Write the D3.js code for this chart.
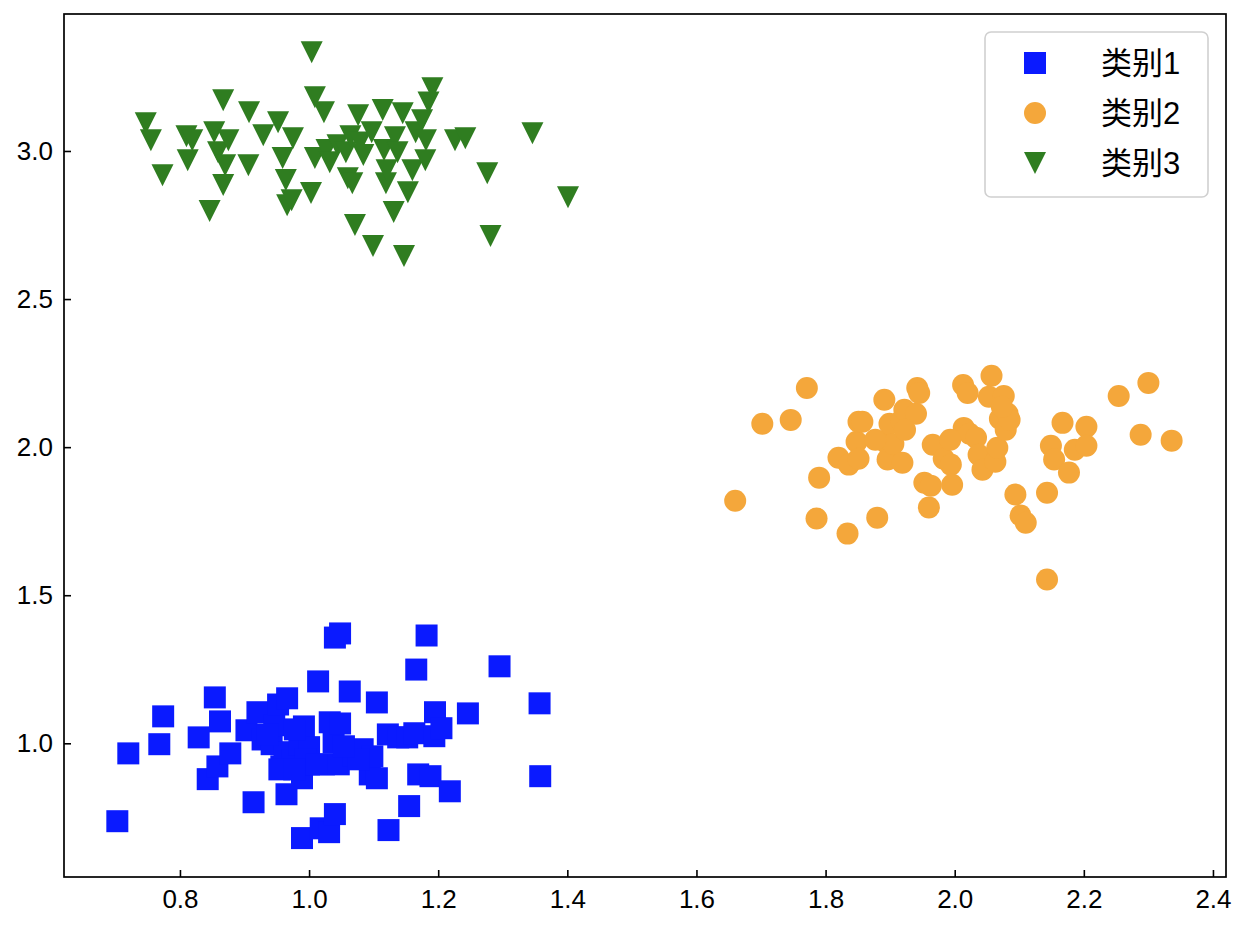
<!DOCTYPE html>
<html>
<head>
<meta charset="utf-8">
<script src="https://cdn.jsdelivr.net/npm/d3@7"></script>
<style>
  body { margin: 0; background: #fff; }
  text { font-family: "Liberation Sans", Arial, "Noto Sans CJK SC", sans-serif; }
</style>
</head>
<body>
<div id="chart"></div>
<script>
// series names for the legend
var names = ["类别1", "类别2", "类别3"];

// 类别1 (blue squares)
var s1x = [0.703,0.720,0.768,0.774,0.829,0.843,0.854,0.858,0.862,0.878,0.903,0.914,0.920,0.928,0.942,0.946,
  0.952,0.957,0.965,0.966,0.962,0.974,0.985,0.989,0.989,0.992,1.000,1.000,1.014,1.018,1.031,1.023,1.032,1.040,
  1.048,1.040,1.038,1.046,1.048,1.063,1.069,1.083,1.094,1.098,1.105,1.105,1.123,1.122,1.138,1.152,1.155,1.163,
  1.166,1.169,1.182,1.188,1.194,1.195,1.205,1.218,1.246,1.295,1.357,1.358,0.935,0.978,0.995,1.012,0.954,0.977,
  1.077,1.054];
var s1y = [0.737,0.966,0.997,1.091,1.020,0.879,1.155,0.922,1.074,0.966,1.044,0.801,1.105,1.013,0.997,1.061,
  1.131,0.922,0.828,1.152,0.970,0.943,0.997,0.882,0.680,1.057,0.987,0.929,1.209,0.713,0.700,0.929,1.071,1.357,
  1.371,0.761,1.003,0.929,1.067,1.175,0.960,0.980,0.895,0.956,1.138,0.882,0.707,1.030,1.020,1.020,0.788,1.034,
  1.249,0.895,1.364,0.889,1.024,1.105,1.051,0.838,1.101,1.260,1.135,0.889,1.030,1.047,0.946,0.929,0.912,0.912,
  0.946,0.990];

// 类别2 (orange circles)
var s2x = [1.660,1.702,1.746,1.771,1.790,1.786,1.820,1.834,1.836,1.848,1.851,1.857,1.851,1.880,1.891,1.894,
  1.896,1.899,1.905,1.917,1.919,1.922,1.940,1.942,1.945,1.953,1.960,1.963,1.966,1.983,1.994,1.996,2.013,2.014,
  2.020,2.023,2.033,2.037,2.043,2.053,2.057,2.063,2.066,2.070,2.076,2.079,2.082,2.085,2.094,2.102,2.110,2.143,
  2.143,2.149,2.154,2.167,2.177,2.186,2.204,2.204,2.254,2.288,2.300,2.336,1.923,2.073,1.877,1.993];
var s2y = [1.819,2.079,2.092,2.200,1.897,1.759,1.964,1.708,1.941,2.018,2.086,2.086,1.961,1.762,2.160,2.015,
  1.958,2.079,2.011,2.089,1.947,2.126,2.113,2.200,2.183,1.880,1.796,1.870,2.008,1.961,1.941,1.873,2.210,2.065,
  2.183,2.045,2.032,1.974,1.924,2.170,2.241,1.951,1.998,2.096,2.173,2.059,2.113,2.092,1.840,1.769,1.745,1.553,
  1.846,2.005,1.958,2.082,1.914,1.991,2.069,2.005,2.173,2.042,2.217,2.022,2.059,2.136,2.025,2.025];

// 类别3 (green down triangles)
var s3x = [1.004,0.747,0.755,0.773,0.810,0.819,0.812,0.846,0.853,0.859,0.867,0.875,0.870,0.867,0.907,0.906,
  0.929,0.952,0.959,0.964,0.966,0.973,0.975,1.003,1.009,1.023,1.009,1.027,1.032,1.044,1.057,1.060,1.064,1.067,
  1.071,1.076,1.079,1.084,1.097,1.099,1.114,1.116,1.119,1.120,1.131,1.133,1.137,1.145,1.147,1.153,1.160,1.165,
  1.175,1.181,1.180,1.185,1.191,1.226,1.242,1.276,1.281,1.346,1.401];
var s3y = [3.333,3.094,3.036,2.918,3.050,3.036,2.969,2.797,3.063,2.996,3.171,3.036,2.952,2.885,3.131,2.952,
  3.053,3.097,2.976,2.902,2.817,2.834,3.043,2.858,3.181,3.131,2.976,3.003,2.962,3.019,2.996,2.908,3.050,2.891,
  2.750,3.121,3.029,2.986,3.063,2.679,3.138,3.003,2.891,2.935,2.794,3.046,2.996,3.127,2.645,2.861,2.935,3.063,
  3.104,3.036,2.969,3.164,3.212,3.036,3.043,2.925,2.713,3.060,2.844];

var xTicks = [0.8, 1.0, 1.2, 1.4, 1.6, 1.8, 2.0, 2.2, 2.4];
var yTicks = [1.0, 1.5, 2.0, 2.5, 3.0];

var W = 1248, H = 930;
var margin = {top: 14, right: 22, bottom: 53, left: 64};
var width = W - margin.left - margin.right,
    height = H - margin.top - margin.bottom;

var colors = ["#0a1aff", "#f4a73b", "#2f7d20"];
var msize = 22;

const svg = d3.select("#chart").append("svg")
  .attr("width", W).attr("height", H);

const g = svg.append("g")
  .attr("transform", `translate(${margin.left},${margin.top})`);

var x = d3.scaleLinear().domain([0.6204, 2.4202]).range([0, width]);
var y = d3.scaleLinear().domain([0.5486, 3.4625]).range([height, 0]);

// down-pointing triangle centred on its bounding box
function triDown(s) {
  var h = s / 2;
  return `M${-h},${-h}L${h},${-h}L0,${h}Z`;
}
var squarePath = d3.symbol(d3.symbolSquare, msize * msize)();
var circlePath = d3.symbol(d3.symbolCircle, Math.PI * (msize / 2) * (msize / 2))();
var shapes = [squarePath, circlePath, triDown(msize)];

var series = [
  d3.zip(s1x, s1y),
  d3.zip(s2x, s2y),
  d3.zip(s3x, s3y)
];

series.forEach(function(pts, i) {
  g.append("g").selectAll("path")
    .data(pts)
    .enter()
    .append("path")
      .attr("d", shapes[i])
      .attr("transform", d => `translate(${x(d[0])},${y(d[1])})`)
      .attr("fill", colors[i]);
});

// axes, ticks pointing inwards
var xAxisG = g.append("g")
  .attr("transform", `translate(0,${height})`)
  .call(d3.axisBottom(x).tickValues(xTicks).tickFormat(d3.format(".1f"))
    .tickSize(-7).tickPadding(13));
var yAxisG = g.append("g")
  .call(d3.axisLeft(y).tickValues(yTicks).tickFormat(d3.format(".1f"))
    .tickSize(-7).tickPadding(11));

[xAxisG, yAxisG].forEach(function(a) {
  a.select(".domain").remove();
  a.selectAll("line").attr("stroke", "#000").attr("stroke-width", 1.6);
  a.selectAll("text").attr("fill", "#000").style("font-size", "26px");
});

// frame
g.append("rect")
  .attr("width", width).attr("height", height)
  .attr("fill", "none").attr("stroke", "#000").attr("stroke-width", 1.7);

// legend
var leg = svg.append("g").attr("transform", "translate(985,32)");
leg.append("rect")
  .attr("width", 223).attr("height", 165).attr("rx", 6)
  .attr("fill", "#fff").attr("fill-opacity", 0.8)
  .attr("stroke", "#d0d0d0").attr("stroke-width", 1.6);

names.forEach(function(n, i) {
  var row = leg.append("g").attr("transform", `translate(0,${31 + i * 50})`);
  row.append("path")
    .attr("d", shapes[i])
    .attr("transform", "translate(50,0)")
    .attr("fill", colors[i]);
  row.append("text")
    .attr("x", 116).attr("y", 11)
    .style("font-size", "31px")
    .attr("fill", "#000")
    .text(n);
});
</script>
</body>
</html>
